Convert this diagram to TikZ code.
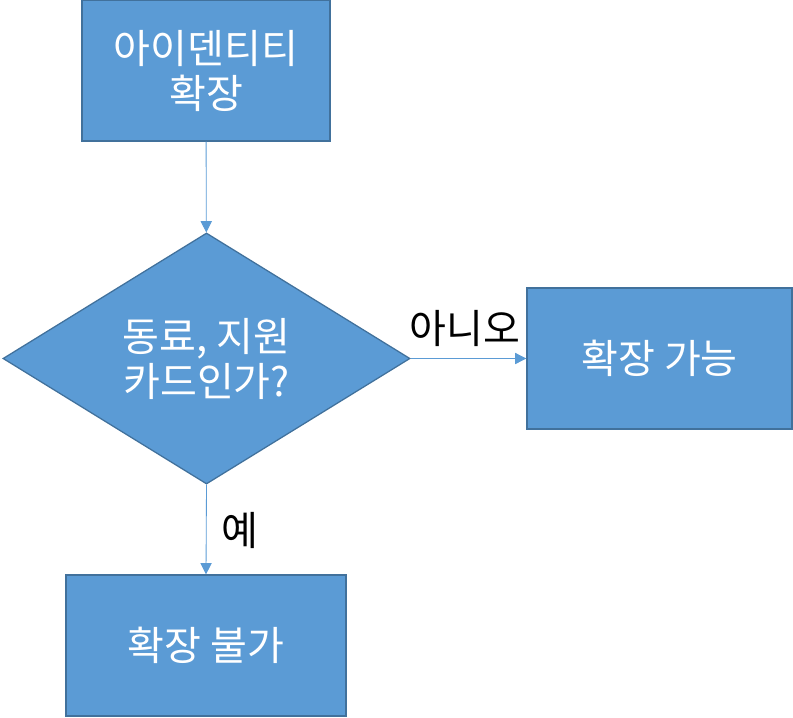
\documentclass[tikz,border=0pt]{standalone}
\usepackage{fontspec}
\setmainfont{Noto Sans CJK KR}
\usepackage{tikz}
\usetikzlibrary{shapes.geometric,arrows.meta,positioning}
\definecolor{boxblue}{HTML}{5B9BD5}
\definecolor{boxline}{HTML}{41719C}

\begin{document}
\begin{tikzpicture}[
    x=0.025cm, y=-0.025cm,
    % Boxes
    stepbox/.style={rectangle, draw=boxline, fill=boxblue, line width=0.9pt, minimum height=3.525cm, text=white, align=center, font=\fontsize{28.5}{32}\selectfont},
    % Decision
    decision/.style={diamond, draw=boxline, fill=boxblue, line width=0.9pt, minimum width=10.175cm, minimum height=6.275cm, inner sep=0pt, text=white, align=center, font=\fontsize{28.5}{32}\selectfont},
    % Connectors
    flow/.style={-{Triangle[length=8pt,width=8pt]}, boxblue, line width=0.6pt},
    answer/.style={font=\fontsize{28.5}{32}\selectfont, text=black}
]
\useasboundingbox (0,0) rectangle (793,717);

% Boxes
\node[stepbox, minimum width=6.2cm] (extend) at (206,70.5) {아이덴티티\\확장};
\node[decision] (check) at (206.5,358.5) {동료, 지원\\카드인가?};
\node[stepbox, minimum width=6.625cm] (yes) at (659.5,358.5) {확장 가능};
\node[stepbox, minimum width=7cm] (no) at (206,645.5) {확장 불가};

% Connectors
\draw[flow] (extend) -- (check);
\draw[flow] (check.east) -- (yes.west);
\draw[flow] (check.south) -- (no.north);

% Answers
\node[answer] (lblno) at (465,328) {아니오};
\node[answer] (lblyes) at (240,530) {예};
\end{tikzpicture}
\end{document}
